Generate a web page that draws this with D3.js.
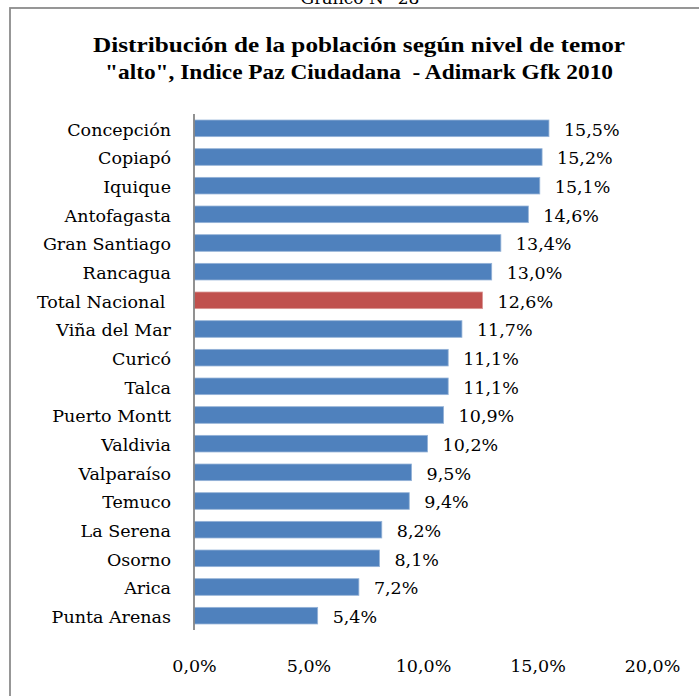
<!DOCTYPE html>
<html>
<head>
<meta charset="utf-8">
<script src="https://cdn.jsdelivr.net/npm/d3@7"></script>
<style>
  html, body { margin: 0; padding: 0; background: #fff; }
  svg { display: block; }
</style>
</head>
<body>
<svg id="chart"></svg>
<script>
// datos del grafico
var categorias = ["Concepción", "Copiapó", "Iquique", "Antofagasta", "Gran Santiago", "Rancagua",
  "Total Nacional ", "Viña del Mar", "Curicó", "Talca", "Puerto Montt", "Valdivia",
  "Valparaíso", "Temuco", "La Serena", "Osorno", "Arica", "Punta Arenas"];
var valores = [15.5, 15.2, 15.1, 14.6, 13.4, 13.0, 12.6, 11.7, 11.1, 11.1, 10.9, 10.2,
  9.5, 9.4, 8.2, 8.1, 7.2, 5.4];
var ticks = [0, 5, 10, 15, 20];
var titulo = ["Distribución de la población según nivel de temor",
  "\"alto\", Indice Paz Ciudadana  - Adimark Gfk 2010"];

var anchura = 699, altura = 696;
var fuente = "'DejaVu Serif', 'Liberation Serif', serif";
var formato = function (v) { return v.toFixed(1).replace(".", ",") + "%"; };

var svg = d3.select("#chart").attr("width", anchura).attr("height", altura);

// texto de arriba (cortado como en el original)
svg.append("text")
  .attr("x", 360).attr("y", 4)
  .attr("text-anchor", "middle")
  .style("font", "17px " + fuente)
  .text("Gráfico N° 28");

// marco
svg.append("rect")
  .attr("x", 10).attr("y", 8)
  .attr("width", 720).attr("height", 720)
  .attr("fill", "none")
  .attr("stroke", "#8c8c8c")
  .attr("stroke-width", 1.8);

// titulo
var anchos = [532, 508];
svg.selectAll(".titulo")
  .data(titulo)
  .join("text")
  .attr("class", "titulo")
  .attr("x", 359)
  .attr("y", function (d, i) { return 52 + i * 26.5; })
  .attr("text-anchor", "middle")
  .attr("textLength", function (d, i) { return anchos[i]; })
  .attr("lengthAdjust", "spacingAndGlyphs")
  .style("font", "bold 22px 'Liberation Serif', serif")
  .style("white-space", "pre")
  .text(function (d) { return d; });

// escalas
var x = d3.scaleLinear().domain([0, 20]).range([194, 652]);
var y = d3.scaleBand().domain(categorias).range([114, 630]).paddingInner(0.42).paddingOuter(0.21);

// barras
svg.selectAll(".barra")
  .data(valores)
  .join("rect")
  .attr("class", "barra")
  .attr("x", x(0))
  .attr("y", function (d, i) { return y(categorias[i]); })
  .attr("width", function (d) { return x(d) - x(0); })
  .attr("height", y.bandwidth())
  .attr("fill", function (d, i) { return categorias[i].indexOf("Total") === 0 ? "#C0504D" : "#4F81BD"; })
  .attr("stroke", function (d, i) { return categorias[i].indexOf("Total") === 0 ? "#D99694" : "#95B3D7"; })
  .attr("stroke-width", 0.8);

// etiquetas de valor
svg.selectAll(".valor")
  .data(valores)
  .join("text")
  .attr("class", "valor")
  .attr("x", function (d) { return x(d) + 15; })
  .attr("y", function (d, i) { return y(categorias[i]) + y.bandwidth() / 2; })
  .attr("dy", "0.42em")
  .style("font", "17.5px " + fuente)
  .style("fill", "#000")
  .text(formato);

// eje de categorias
svg.selectAll(".cat")
  .data(categorias)
  .join("text")
  .attr("class", "cat")
  .attr("x", 171)
  .attr("y", function (d) { return y(d) + y.bandwidth() / 2; })
  .attr("dy", "0.42em")
  .attr("text-anchor", "end")
  .style("font", "17.5px " + fuente)
  .style("white-space", "pre")
  .style("fill", "#000")
  .text(function (d) { return d; });

svg.append("line")
  .attr("x1", x(0)).attr("x2", x(0))
  .attr("y1", 114).attr("y2", 630)
  .attr("stroke", "#868686")
  .attr("stroke-width", 1.8);

// eje x (solo etiquetas)
var ejeX = d3.axisBottom(x).tickValues(ticks).tickSize(0).tickPadding(0)
  .tickFormat(formato);
var gx = svg.append("g").attr("transform", "translate(0,657)").call(ejeX);
gx.select(".domain").remove();
gx.selectAll("text")
  .attr("dy", "0.85em")
  .style("font", "17.5px " + fuente)
  .style("fill", "#000");
</script>
</body>
</html>
